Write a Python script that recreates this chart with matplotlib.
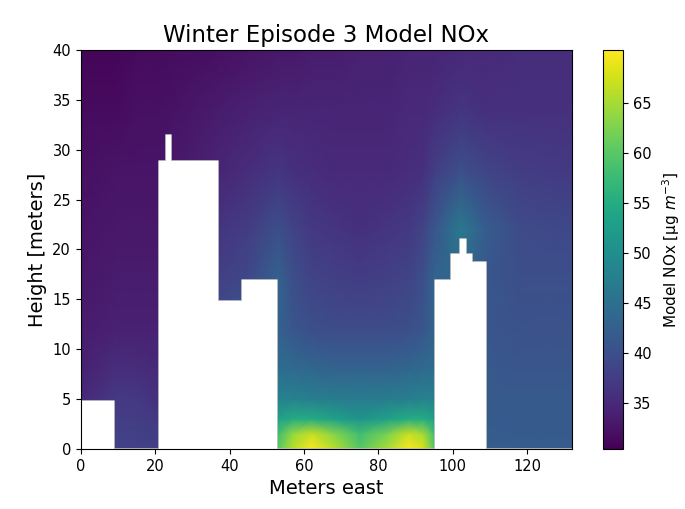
import numpy as np
import matplotlib
matplotlib.use('Agg')
from matplotlib import pyplot as plt

# grid nodes of the concentration field (meters)
x_nodes = [0, 9, 15, 21, 37, 45, 53, 57, 62, 68, 75, 82, 88, 92, 95, 102, 109, 118, 132]
y_nodes = [0, 1.5, 3, 5, 8, 12, 17, 22, 28, 34, 40]

# NOx values, one row per height level (bottom to top)
nox_y0 = [37, 38, 38, 38, 40, 42, 60, 66, 70, 66, 60, 65, 70, 68, 60, 45, 42, 42, 42]
nox_y1 = [36.5, 38, 38, 37.5, 40, 42, 58, 64, 67, 63, 58, 62, 67, 65, 58, 45, 42, 41.5, 41.5]
nox_y3 = [36, 37.5, 37.5, 37, 40, 42, 53, 55, 55, 53, 51, 53, 55, 55, 53, 44, 41.5, 41.5, 41.5]
nox_y5 = [35, 37, 37, 36, 40, 42, 48, 48, 47.5, 47, 47, 47, 47.5, 48, 48, 43.5, 41.5, 41.5, 41.5]
nox_y8 = [34, 35.5, 35.5, 35, 40, 42, 44.5, 44, 43.5, 43, 43, 43, 43.5, 44, 44.5, 43, 41.5, 41, 41]
nox_y12 = [33.5, 34, 34, 34, 40, 42, 43, 41, 40, 39.5, 39.5, 39.5, 40, 41, 43, 43, 41, 40.5, 40.5]
nox_y17 = [33, 33.5, 33.5, 33.5, 38, 39, 43, 40, 38.5, 38, 37.5, 38, 38.5, 40, 43, 43.5, 41, 40, 40]
nox_y22 = [32.5, 33, 33, 33, 36.5, 37.5, 40, 38.5, 37, 36.5, 36, 36.5, 37, 38.5, 41, 46.5, 42, 39.5, 39]
nox_y28 = [32, 32.5, 32.5, 32.5, 34.5, 35.5, 36.5, 36, 35.5, 35, 35, 35, 35.5, 36, 37.5, 40, 38.5, 37.5, 37]
nox_y34 = [31.5, 31.5, 32, 32, 33.5, 34, 34.5, 34.5, 34.5, 34.5, 34.5, 34.5, 35, 35, 35.5, 36.5, 36, 36, 36]
nox_y40 = [31, 31, 31.5, 31.5, 32, 32.5, 33, 33, 33.5, 33.5, 34, 34, 34.5, 34.5, 34.5, 35, 35, 35.5, 35.5]

# building skyline (left edge of each step, roof height)
roof_x = [0, 9, 21, 23.0, 24.2, 36.8, 43.3, 52.8, 95.3, 99.6, 101.8, 103.6, 105.0, 109.0, 132]
roof_h = [4.8, 0, 28.9, 31.5, 28.9, 14.8, 16.9, 0, 16.9, 19.5, 21.0, 19.5, 18.7, 0, 0]

cbar_ticks = [35, 40, 45, 50, 55, 60, 65]
vmin, vmax = 30.4, 70.3


def main():
    field = np.array([nox_y0, nox_y1, nox_y3, nox_y5, nox_y8, nox_y12,
                      nox_y17, nox_y22, nox_y28, nox_y34, nox_y40])
    X, Y = np.meshgrid(x_nodes, y_nodes)

    fig = plt.figure(figsize=(6.85, 5.09), dpi=100)
    ax = fig.add_axes([0.118, 0.118, 0.717, 0.784])
    cax = fig.add_axes([0.880, 0.118, 0.030, 0.784])

    mesh = ax.pcolormesh(X, Y, field, shading='gouraud', cmap='viridis',
                         vmin=vmin, vmax=vmax, rasterized=True, zorder=1)

    # buildings masked out in white, with a soft grey rim (kept under the spines)
    ax.fill_between(roof_x, -1, roof_h, step='post', color='white',
                    edgecolor='#c8c8c8', linewidth=1.2, zorder=1.5)
    ax.fill_between(roof_x, -1, roof_h, step='post', color='white',
                    linewidth=0, zorder=1.6)

    ax.set_xlim(0, 132)
    ax.set_ylim(0, 40)
    ax.set_xticks([0, 20, 40, 60, 80, 100, 120])
    ax.set_yticks([0, 5, 10, 15, 20, 25, 30, 35, 40])
    ax.tick_params(labelsize=10.5)
    ax.set_xlabel('Meters east', fontsize=14)
    ax.set_ylabel('Height [meters]', fontsize=14)
    ax.set_title('Winter Episode 3 Model NOx', fontsize=16.5)

    cb = fig.colorbar(mesh, cax=cax, ticks=cbar_ticks)
    cb.ax.tick_params(labelsize=10.5)
    cb.set_label(r'Model NOx [μg $m^{-3}$]', fontsize=11, labelpad=6)

    plt.savefig('out.png', dpi=100)
    plt.close()


if __name__ == '__main__':
    main()
